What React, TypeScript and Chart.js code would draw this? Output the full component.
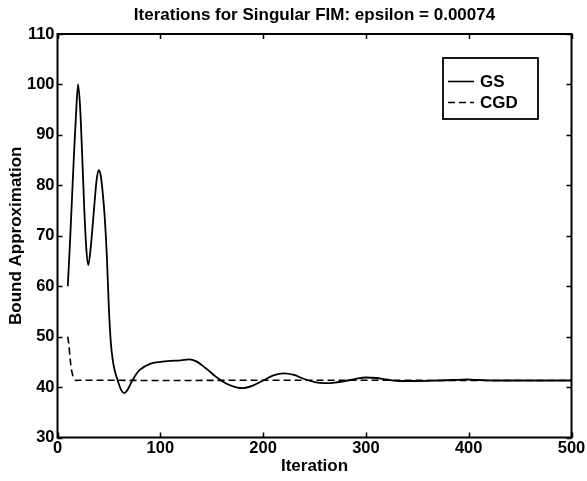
import React, { useEffect, useRef } from 'react';
import { Chart, registerables } from 'chart.js';

Chart.register(...registerables);

const titleText = 'Iterations for Singular FIM: epsilon = 0.00074';
const xTitle = 'Iteration';
const yTitle = 'Bound Approximation';
const seriesNames = ['GS', 'CGD'];

const xTicks = [0, 100, 200, 300, 400, 500];
const yTicks = [30, 40, 50, 60, 70, 80, 90, 100, 110];

const gsIter = [10, 12, 14, 16, 18, 20, 22, 24, 26, 28, 30, 32, 34, 36, 38, 40, 42, 44, 46, 48, 50, 52, 54, 56, 58, 60, 62, 65, 68, 72, 76, 80, 90, 100, 110, 120, 128, 135, 145, 155, 165, 175, 180, 190, 200, 210, 220, 230, 240, 250, 260, 270, 280, 290, 300, 310, 320, 333, 350, 370, 385, 398, 410, 425, 450, 475, 500];
const gsValue = [60, 68, 77, 86, 94, 100, 95.5, 86, 75.5, 67.5, 64.2, 67, 71.5, 76.5, 81, 83, 82, 78.5, 73.5, 66, 55.5, 48.5, 45, 43, 41.7, 40.4, 39.4, 38.8, 39.4, 41, 42.4, 43.4, 44.6, 45, 45.2, 45.3, 45.5, 45.1, 43.6, 41.9, 40.6, 39.9, 39.8, 40.3, 41.3, 42.3, 42.7, 42.4, 41.6, 41, 40.8, 40.9, 41.2, 41.6, 41.9, 41.8, 41.5, 41.2, 41.2, 41.3, 41.4, 41.5, 41.4, 41.3, 41.3, 41.3, 41.3];

const cgdIter = [10, 11, 12, 13, 14, 15, 16, 17, 18, 20, 40, 100, 200, 300, 400, 500];
const cgdValue = [50, 48.5, 46.3, 44.3, 43, 42.2, 41.7, 41.4, 41.3, 41.35, 41.35, 41.3, 41.35, 41.35, 41.3, 41.3];

const FONT = '"Liberation Sans", Arial, Helvetica, sans-serif';

const decorPlugin = {
  id: 'decor',
  afterDatasetsDraw(chart: any) {
    const { ctx, chartArea } = chart;
    const { left, right, top, bottom } = chartArea;
    const xs = chart.scales.x;
    const ys = chart.scales.y;
    ctx.save();
    ctx.strokeStyle = '#000';
    ctx.fillStyle = '#000';
    ctx.setLineDash([]);
    // inward ticks
    ctx.lineWidth = 1.5;
    const tl = 5;
    ctx.beginPath();
    xTicks.forEach((v) => {
      const px = Math.round(xs.getPixelForValue(v)) + 0.5;
      ctx.moveTo(px, bottom);
      ctx.lineTo(px, bottom - tl);
      ctx.moveTo(px, top);
      ctx.lineTo(px, top + tl);
    });
    yTicks.forEach((v) => {
      const py = Math.round(ys.getPixelForValue(v)) + 0.5;
      ctx.moveTo(left, py);
      ctx.lineTo(left + tl, py);
      ctx.moveTo(right, py);
      ctx.lineTo(right - tl, py);
    });
    ctx.stroke();
    // frame
    ctx.lineWidth = 2;
    ctx.strokeRect(left, top, right - left, bottom - top);

    // legend
    const bx = 443, by = 58, bw = 95, bh = 61;
    ctx.fillStyle = '#fff';
    ctx.fillRect(bx, by, bw, bh);
    ctx.lineWidth = 1.8;
    ctx.strokeRect(bx, by, bw, bh);
    const rows = [81.5, 102.5];
    chart.data.datasets.forEach((ds: any, i: number) => {
      ctx.beginPath();
      ctx.lineWidth = 1.6;
      ctx.setLineDash(ds.borderDash || []);
      ctx.moveTo(448, rows[i]);
      ctx.lineTo(474, rows[i]);
      ctx.stroke();
      ctx.setLineDash([]);
      ctx.fillStyle = '#000';
      ctx.font = `bold 17px ${FONT}`;
      ctx.textAlign = 'left';
      ctx.textBaseline = 'middle';
      ctx.fillText(seriesNames[i], 480, rows[i] + 0.5);
    });

    // titles
    ctx.fillStyle = '#000';
    ctx.font = `bold 17px ${FONT}`;
    ctx.textAlign = 'center';
    ctx.textBaseline = 'middle';
    const cx = (left + right) / 2;
    ctx.fillText(titleText, cx, 15);
    ctx.fillText(xTitle, cx, 466);
    ctx.save();
    ctx.translate(16.5, (top + bottom) / 2);
    ctx.rotate(-Math.PI / 2);
    ctx.fillText(yTitle, 0, 0);
    ctx.restore();
    ctx.restore();
  },
};

export default function App() {
  const ref = useRef<HTMLCanvasElement | null>(null);
  useEffect(() => {
    if (!ref.current) return;
    const chart = new Chart(ref.current, {
      type: 'line',
      data: {
        datasets: [
          {
            label: seriesNames[0],
            data: gsIter.map((x, i) => ({ x, y: gsValue[i] })),
            borderColor: '#000',
            borderWidth: 1.8,
            pointRadius: 0,
            fill: false,
            cubicInterpolationMode: 'monotone',
          },
          {
            label: seriesNames[1],
            data: cgdIter.map((x, i) => ({ x, y: cgdValue[i] })),
            borderColor: '#000',
            borderWidth: 1.6,
            borderDash: [7, 4],
            pointRadius: 0,
            fill: false,
            cubicInterpolationMode: 'monotone',
          },
        ],
      },
      options: {
        animation: false,
        responsive: false,
        maintainAspectRatio: false,
        layout: { padding: { top: 34, right: 15.5, left: 0, bottom: 0 } },
        plugins: { legend: { display: false }, tooltip: { enabled: false }, title: { display: false } },
        scales: {
          x: {
            type: 'linear',
            min: 0,
            max: 500,
            afterFit: (s: any) => { s.height = 43.5; },
            afterBuildTicks: (s: any) => { s.ticks = xTicks.map((v) => ({ value: v })); },
            grid: { display: false, drawTicks: false },
            border: { display: false },
            ticks: { color: '#000', padding: 1, maxRotation: 0, font: { family: FONT, size: 16.5, weight: 'bold' } },
          },
          y: {
            type: 'linear',
            min: 30,
            max: 110,
            afterFit: (s: any) => { s.width = 57.5; },
            afterBuildTicks: (s: any) => { s.ticks = yTicks.map((v) => ({ value: v })); },
            grid: { display: false, drawTicks: false },
            border: { display: false },
            ticks: { color: '#000', padding: 3, font: { family: FONT, size: 16.5, weight: 'bold' } },
          },
        },
      } as any,
      plugins: [decorPlugin],
    });
    return () => chart.destroy();
  }, []);
  return (
    <div style={{ position: 'fixed', left: 0, top: 0, width: 587, height: 481, background: '#fff' }}>
      <canvas ref={ref} width={587} height={481} style={{ display: 'block', width: 587, height: 481 }} />
    </div>
  );
}
